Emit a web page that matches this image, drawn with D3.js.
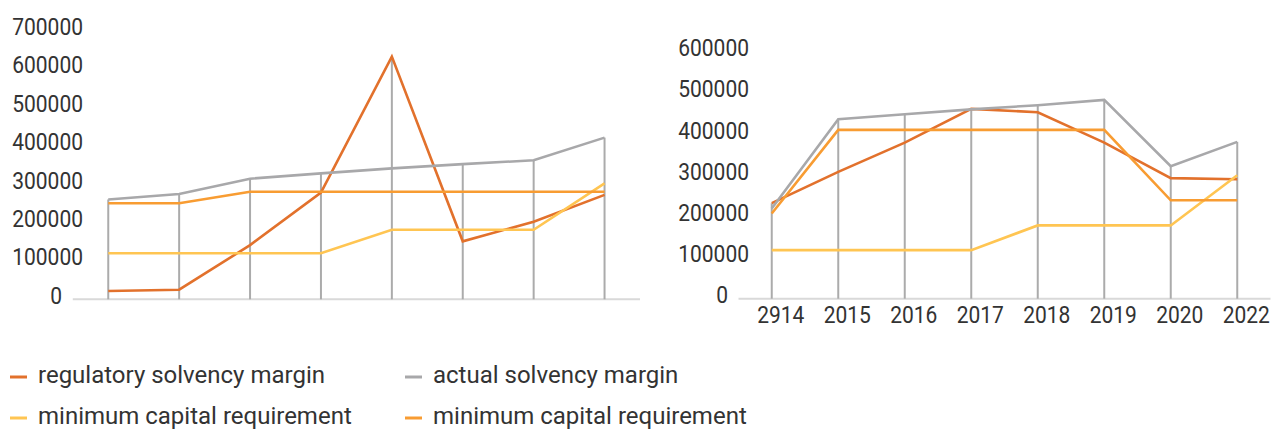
<!DOCTYPE html>
<html>
<head>
<meta charset="utf-8">
<script src="https://cdn.jsdelivr.net/npm/d3@7"></script>
<style>
  html, body { margin: 0; padding: 0; background: #fff; }
  svg { display: block; }
  text { font-family: Roboto, "Noto Sans", sans-serif; fill: #333333; }
</style>
</head>
<body>
<svg id="chart" width="1271" height="430"></svg>
<script>
// ---------- data ----------
const leftCategories = ["1", "2", "3", "4", "5", "6", "7", "8"];
const leftRegulatory = [21700, 25000, 141000, 278000, 632000, 151000, 202000, 272000];
const leftActual     = [260000, 274000, 314000, 328000, 341000, 352000, 362000, 421000];
const leftMcrA       = [120000, 120000, 120000, 120000, 181000, 181000, 181000, 302000];
const leftMcrB       = [250000, 250000, 280000, 280000, 280000, 280000, 280000, 280000];
const leftTicks      = [0, 100000, 200000, 300000, 400000, 500000, 600000, 700000];

const rightCategories = ["2914", "2015", "2016", "2017", "2018", "2019", "2020", "2022"];
const rightRegulatory = [232000, 308000, 379000, 461000, 453000, 379000, 293000, 290000];
const rightActual     = [219000, 436000, 448000, 460000, 470000, 483000, 322000, 381000];
const rightMcrA       = [118000, 118000, 118000, 118000, 178000, 178000, 178000, 300000];
const rightMcrB       = [207000, 410000, 410000, 410000, 410000, 410000, 239000, 239000];
const rightTicks      = [0, 100000, 200000, 300000, 400000, 500000, 600000];

const seriesNames = ["regulatory solvency margin", "actual solvency margin",
                     "minimum capital requirement", "minimum capital requirement"];
const seriesColors = ["#E2712C", "#A8A8AA", "#FFC552", "#F89C32"];

// ---------- drawing ----------
const svg = d3.select("#chart");
const SX = 0.875;   // horizontal condensing of axis text (DIN-like look)
const FS = 24;

function ctext(g, str, x, y, anchor, size, sx) {
  return g.append("text")
    .attr("transform", `translate(${x},${y}) scale(${sx == null ? SX : sx},1)`)
    .attr("text-anchor", anchor)
    .style("font-size", (size || FS) + "px")
    .text(str);
}

function drawChart(cfg) {
  const g = svg.append("g");
  const x = d3.scaleBand().domain(cfg.categories).range([cfg.x0, cfg.x1]);
  const y = d3.scaleLinear().domain([0, cfg.max]).range([cfg.y0, cfg.y1]);
  const cx = c => x(c) + x.bandwidth() / 2;
  const series = cfg.series;

  // y labels
  cfg.ticks.forEach(t => {
    const right = t === 0 ? cfg.labelRight - 21 : cfg.labelRight;
    ctext(g, String(t), right, y(t) + 4.5, "end");
  });

  // axis baseline
  g.append("line")
    .attr("x1", cfg.x0).attr("x2", cfg.x1)
    .attr("y1", y(0)).attr("y2", y(0))
    .attr("stroke", "#D9D9D9").attr("stroke-width", 2);

  // drop lines (from max of series to axis)
  cfg.categories.forEach((c, i) => {
    const m = d3.max(series, s => s[i]);
    g.append("line")
      .attr("x1", cx(c)).attr("x2", cx(c))
      .attr("y1", y(m)).attr("y2", y(0))
      .attr("stroke", "#ABABAB").attr("stroke-width", 2);
  });

  // series lines
  const line = d3.line().x((d, i) => cx(cfg.categories[i])).y(d => y(d));
  series.forEach((s, k) => {
    g.append("path").datum(s)
      .attr("d", line)
      .attr("fill", "none")
      .attr("stroke", seriesColors[k])
      .attr("stroke-width", 2.6)
      .attr("stroke-linejoin", "miter");
  });

  // x labels
  if (cfg.showX) {
    cfg.categories.forEach(c => {
      ctext(g, c, cx(c) + 9, 323, "middle");
    });
  }
}

drawChart({
  categories: leftCategories,
  series: [leftRegulatory, leftActual, leftMcrA, leftMcrB],
  ticks: leftTicks, max: 700000,
  x0: 72.8, x1: 640, y0: 299.3, y1: 30.5,
  labelRight: 83, showX: false
});

drawChart({
  categories: rightCategories,
  series: [rightRegulatory, rightActual, rightMcrA, rightMcrB],
  ticks: rightTicks, max: 600000,
  x0: 738.5, x1: 1270.5, y0: 298.7, y1: 51.7,
  labelRight: 749, showX: true
});

// legend
const legendPos = [[10, 377], [405, 377], [10, 418], [405, 418]];
const lg = svg.append("g");
seriesNames.forEach((name, k) => {
  const [lx, ly] = legendPos[k];
  lg.append("line")
    .attr("x1", lx).attr("x2", lx + 17)
    .attr("y1", ly).attr("y2", ly)
    .attr("stroke", seriesColors[k]).attr("stroke-width", 3);
  ctext(lg, name, lx + 28, ly + 6, "start", 24, 1.0);
});
</script>
</body>
</html>
